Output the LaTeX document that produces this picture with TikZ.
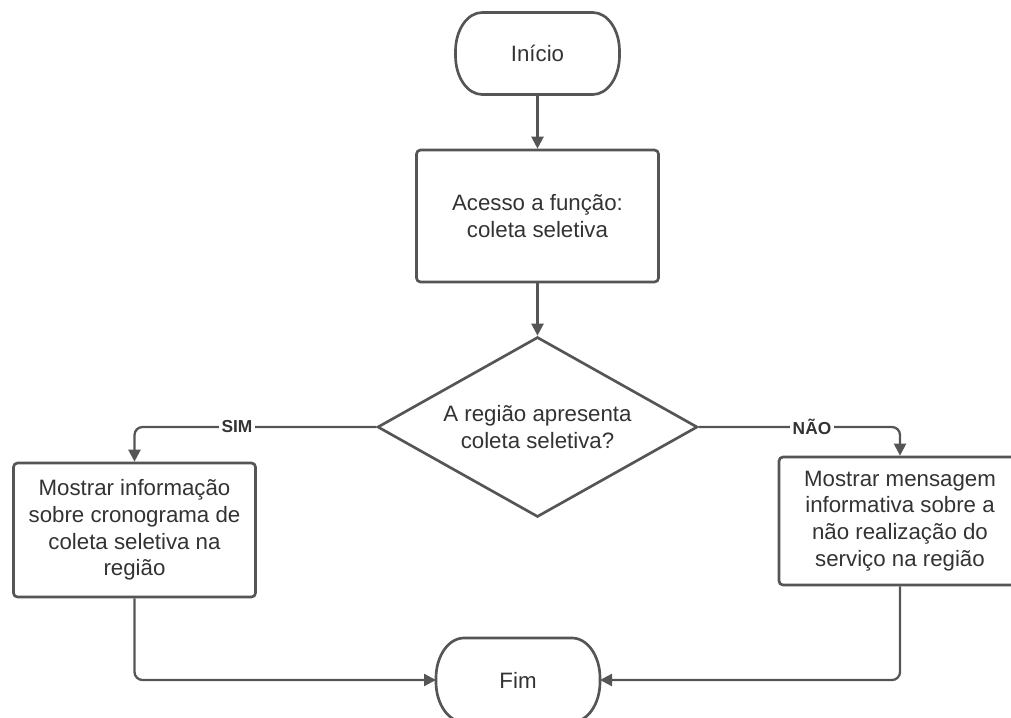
\documentclass[tikz,border=0pt]{standalone}
\usepackage{fontspec}
\setmainfont{Liberation Sans}
\usetikzlibrary{shapes.geometric,arrows.meta}
\definecolor{ln}{HTML}{555555}
\definecolor{tx}{HTML}{333333}
\newcommand\termoutline[3]{\draw[bord] ([xshift=#2]#1.north west) -- ([xshift=-#2]#1.north east)
  arc[start angle=90,end angle=0,x radius=#2,y radius=#3] -- ([yshift=#3]#1.south east)
  arc[start angle=0,end angle=-90,x radius=#2,y radius=#3] -- ([xshift=#2]#1.south west)
  arc[start angle=270,end angle=180,x radius=#2,y radius=#3] -- ([yshift=-#3]#1.north west)
  arc[start angle=180,end angle=90,x radius=#2,y radius=#3] -- cycle;}
\begin{document}
\begin{tikzpicture}[x=0.75pt,y=-0.75pt,
  bord/.style={draw=ln, line width=2pt},
  base/.style={draw=ln, line width=2pt, text=tx, fill=white, font=\fontsize{16.7}{20}\selectfont, align=center, inner sep=0pt},
  term/.style={text=tx, font=\fontsize{16.7}{20}\selectfont, align=center, inner sep=0pt, outer sep=0pt, rectangle, minimum width=123pt, minimum height=61.5pt},
  proc/.style={base, rectangle, rounded corners=3pt, minimum width=181.5pt, minimum height=99pt},
  dec/.style={base, diamond, aspect=1.78, minimum width=240pt, minimum height=135pt},
  arr/.style={draw=ln, line width=1.7pt, -{Triangle[length=9pt,width=9pt]}, rounded corners=6pt},
  lbl/.style={fill=white, text=tx, font=\bfseries\fontsize{13}{15}\selectfont, inner sep=2pt}
]
\useasboundingbox (0,0) rectangle (1011,718);
\node[term] (inicio) at (537.5,53.5) {Início};
\termoutline{inicio}{20pt}{29pt}
\node[proc] (acesso) at (537.5,216) {Acesso a função:\\coleta seletiva};
\node[dec] (dec) at (537.5,427) {A região apresenta\\coleta seletiva?};
\node[proc, minimum height=100.5pt] (lbox) at (134.5,530) {Mostrar informação\\sobre cronograma de\\coleta seletiva na\\região};
\node[proc, minimum height=96pt] (rbox) at (900,521) {Mostrar mensagem\\informativa sobre a\\não realização do\\serviço na região};
\node[term, minimum height=63pt] (fim) at (518,680) {Fim};
\termoutline{fim}{21pt}{30pt}

\draw[arr] (inicio) -- (acesso);
\draw[arr] (acesso) -- (dec);
\draw[arr] (dec.west) -| (lbox.north);
\draw[arr] (dec.east) -| (rbox.north);
\draw[arr] (lbox.south) |- (fim.west);
\draw[arr] (rbox.south) |- (fim.east);

\node[lbl] (sim) at (237,427) {SIM};
\node[lbl] (nao) at (812,427) {NÃO};
\end{tikzpicture}
\end{document}
